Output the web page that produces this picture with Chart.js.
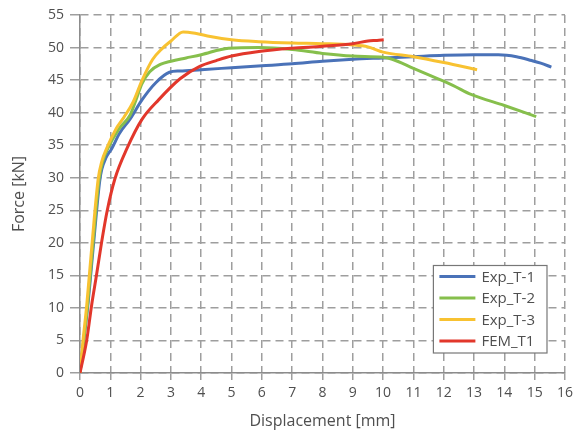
<!DOCTYPE html>
<html>
<head>
<meta charset="utf-8">
<script src="https://cdn.jsdelivr.net/npm/chart.js@4"></script>
<style>
  html, body { margin: 0; padding: 0; background: #fff; }
  #wrap { width: 578px; height: 434px; }
</style>
</head>
<body>
<div id="wrap"><canvas id="forceChart" width="578" height="434"></canvas></div>
<script>
// Force-displacement curves
const seriesLabels = ['Exp_T-1', 'Exp_T-2', 'Exp_T-3', 'FEM_T1'];
const seriesColors = ['#4a72b8', '#86bf4c', '#f8c231', '#e2372b'];

const t1X = [0, 0.12, 0.25, 0.45, 0.65, 0.72, 0.85, 1.05, 1.3, 1.65, 2.05, 2.5, 2.95, 3.3, 4.0, 5.0, 6.0, 7.0, 8.0, 9.0, 10.0, 11.0, 12.0, 13.0, 13.8, 14.4, 14.9, 15.2, 15.55];
const t1Y = [0, 5, 10, 20, 29.5, 31.3, 33, 34.5, 36.8, 39, 42, 44.6, 46.2, 46.4, 46.6, 46.9, 47.2, 47.5, 47.9, 48.2, 48.4, 48.6, 48.8, 48.9, 48.9, 48.6, 48.0, 47.6, 47.0];

const t2X = [0, 0.24, 0.43, 0.63, 0.75, 0.92, 1.3, 1.65, 1.85, 2.05, 2.3, 2.65, 3.0, 3.5, 4.0, 4.9, 5.9, 7.0, 8.0, 9.0, 10.0, 10.3, 11.0, 11.6, 12.3, 12.9, 14.0, 15.05];
const t2Y = [0, 10, 20, 29.8, 32.5, 34.5, 37.6, 39.6, 42, 44.5, 46.3, 47.4, 47.9, 48.4, 48.9, 49.9, 50.0, 49.7, 49.1, 48.7, 48.5, 48.2, 46.8, 45.6, 44.2, 42.8, 41.1, 39.4];

const t3X = [0, 0.1, 0.22, 0.4, 0.6, 0.72, 0.88, 1.2, 1.45, 1.75, 2.05, 2.4, 2.7, 3.0, 3.4, 3.8, 4.3, 5.0, 5.9, 7.0, 8.0, 9.0, 9.5, 10.0, 11.0, 12.0, 13.1];
const t3Y = [0, 5, 10.3, 20, 29.8, 32.5, 34.5, 37.6, 39.3, 41.6, 45, 48.2, 49.8, 51.0, 52.4, 52.2, 51.7, 51.2, 50.9, 50.7, 50.6, 50.4, 50.1, 49.3, 48.6, 47.7, 46.6];

const femX = [0, 0.22, 0.38, 0.55, 0.71, 0.9, 1.15, 1.55, 2.05, 2.6, 3.3, 3.95, 4.5, 5.0, 5.9, 7.0, 8.0, 9.0, 9.5, 9.8, 10.02];
const femY = [0, 5, 10.3, 15.2, 20, 25, 29.8, 34.5, 39, 42, 45.2, 47.1, 48.0, 48.7, 49.4, 49.9, 50.2, 50.6, 51.0, 51.1, 51.2];

const xTicks = { min: 0, max: 16, step: 1 };
const yTicks = { min: 0, max: 55, step: 5 };

const textColor = '#4f4f4f';
const gridColor = '#9e9e9e';
const fontFamily = '"Open Sans", "Noto Sans", sans-serif';

function toPoints(xs, ys) {
    return xs.map((x, i) => ({ x: x, y: ys[i] }));
}

const allX = [t1X, t2X, t3X, femX];
const allY = [t1Y, t2Y, t3Y, femY];

// later series sit on top, like the original
const datasets = seriesLabels.map((label, i) => ({
    label: label,
    data: toPoints(allX[i], allY[i]),
    borderColor: seriesColors[i],
    backgroundColor: seriesColors[i],
    borderWidth: 3,
    pointRadius: 0,
    showLine: true,
    cubicInterpolationMode: 'monotone',
    order: seriesLabels.length - i
}));

// legend box drawn inside the plot, bottom right
const boxLegend = {
    id: 'boxLegend',
    afterDraw(chart) {
        const ctx = chart.ctx;
        const area = chart.chartArea;
        const items = chart.data.datasets;
        ctx.save();
        ctx.font = '15px ' + fontFamily;
        let maxW = 0;
        items.forEach(d => { maxW = Math.max(maxW, ctx.measureText(d.label).width); });
        const lineLen = 36, gap = 6, padL = 6, padR = 12, rowH = 21.5;
        const w = padL + lineLen + gap + maxW + padR;
        const h = 11 + rowH * (items.length - 1) + 12;
        const right = area.right - 18;
        const bottom = area.bottom - 20;
        const left = right - w, top = bottom - h;
        ctx.fillStyle = '#fff';
        ctx.fillRect(left, top, w, h);
        ctx.strokeStyle = '#777';
        ctx.lineWidth = 1.2;
        ctx.strokeRect(left, top, w, h);
        items.forEach((d, i) => {
            const y = top + 11 + i * rowH;
            ctx.strokeStyle = d.borderColor;
            ctx.lineWidth = 3;
            ctx.beginPath();
            ctx.moveTo(left + padL, y);
            ctx.lineTo(left + padL + lineLen, y);
            ctx.stroke();
            ctx.fillStyle = textColor;
            ctx.textBaseline = 'middle';
            ctx.textAlign = 'left';
            ctx.fillText(d.label, left + padL + lineLen + gap, y + 1);
        });
        ctx.restore();
    }
};

new Chart(document.getElementById('forceChart'), {
    type: 'scatter',
    data: { datasets: datasets },
    plugins: [boxLegend],
    options: {
        responsive: false,
        animation: false,
        layout: { padding: { top: 15, right: 11, left: 0, bottom: 0 } },
        plugins: {
            legend: { display: false },
            tooltip: { enabled: false }
        },
        scales: {
            x: {
                type: 'linear',
                min: xTicks.min,
                max: xTicks.max,
                afterFit: s => { s.height = 61; },
                ticks: { stepSize: xTicks.step, color: textColor, padding: 5, font: { family: fontFamily, size: 14 } },
                grid: { color: gridColor, lineWidth: 1.5, tickLength: 7, tickColor: gridColor },
                border: { color: '#8c8c8c', width: 1.5, dash: [8, 5] },
                title: { display: true, text: 'Displacement [mm]', color: textColor, font: { family: fontFamily, size: 16 }, padding: { top: 0, bottom: 3 } }
            },
            y: {
                type: 'linear',
                min: yTicks.min,
                max: yTicks.max,
                afterFit: s => { s.width = 80; },
                ticks: { stepSize: yTicks.step, color: textColor, padding: 6, font: { family: fontFamily, size: 14 } },
                grid: { color: gridColor, lineWidth: 1.5, tickLength: 10, tickColor: gridColor },
                border: { color: '#8c8c8c', width: 1.5, dash: [8, 5] },
                title: { display: true, text: 'Force [kN]', color: textColor, font: { family: fontFamily, size: 16 }, padding: { top: 10, bottom: 0 } }
            }
        }
    }
});
</script>
</body>
</html>
